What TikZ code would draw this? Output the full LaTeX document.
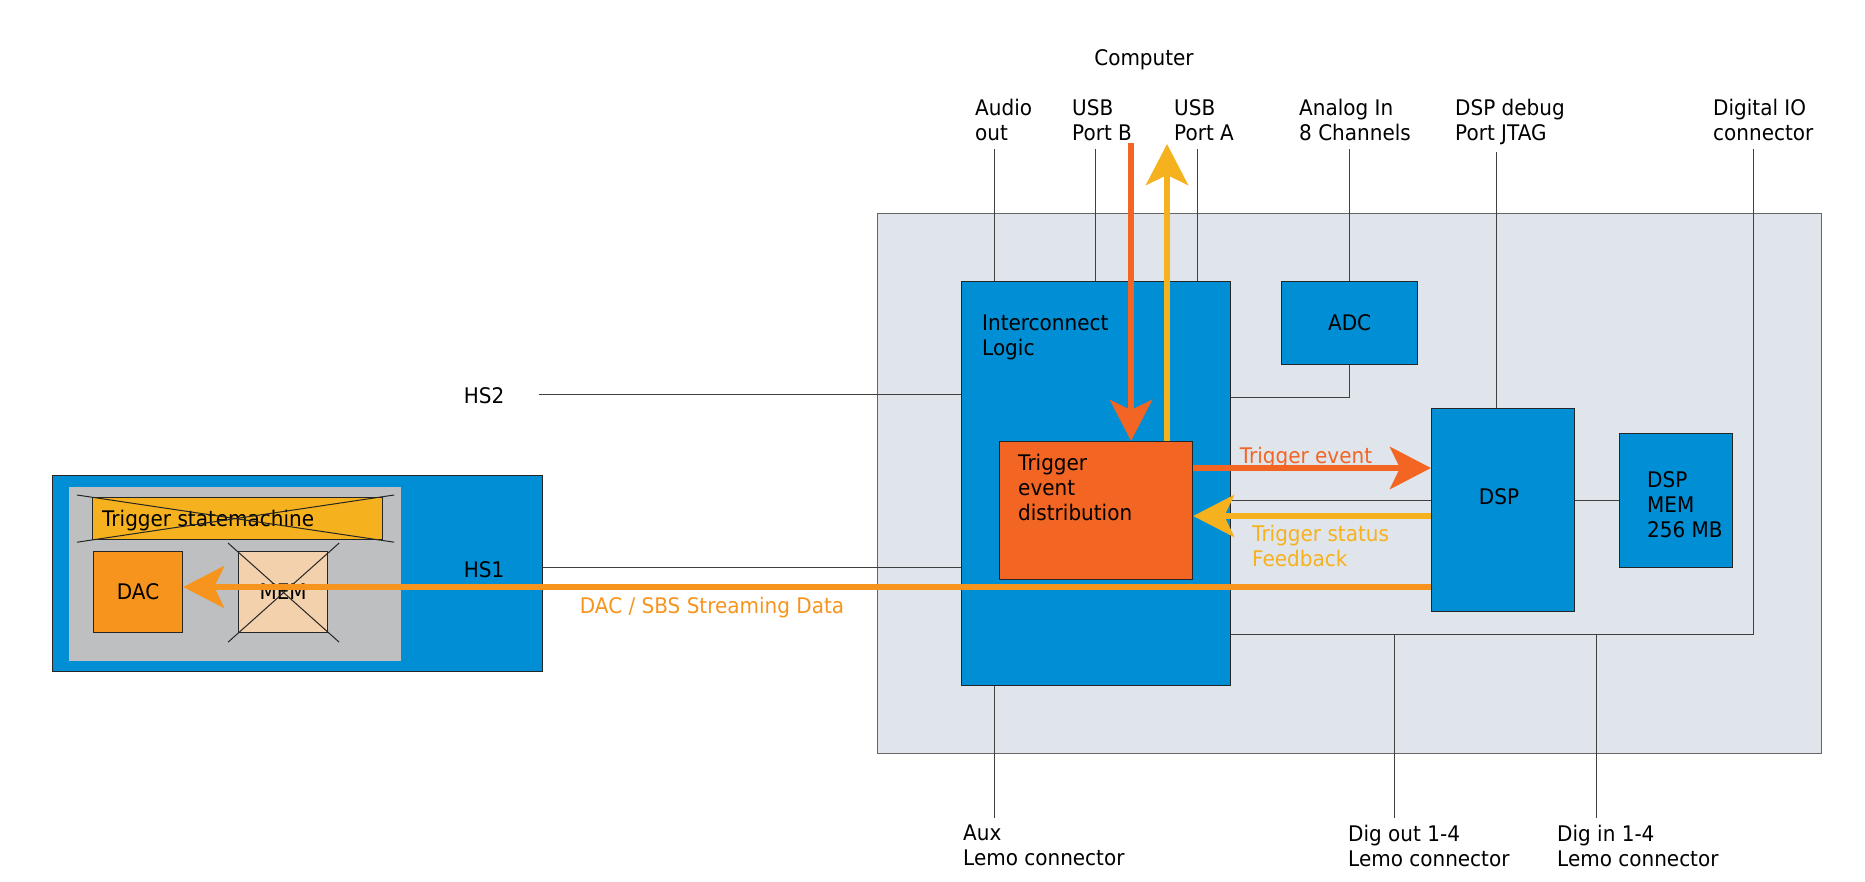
\documentclass[tikz,border=0pt]{standalone}
\usepackage{fontspec}
\setmainfont{DejaVu Sans}[FakeStretch=0.93]
\usetikzlibrary{positioning,arrows.meta}
\definecolor{boxblue}{HTML}{008ED4}
\definecolor{boardgray}{HTML}{E0E5EC}
\definecolor{slotgray}{HTML}{BEBFC1}
\definecolor{trigred}{HTML}{F26522}
\definecolor{trigyel}{HTML}{F6B11E}
\definecolor{streamor}{HTML}{F7941E}
\definecolor{peach}{HTML}{F2D1AC}

\begin{document}
\begin{tikzpicture}[x=1pt, y=-1pt, font=\fontsize{21.5}{25}\selectfont,
  box/.style={draw=black!85, line width=1.2pt, inner sep=0pt, anchor=north west},
  wire/.style={draw=black!75, line width=1pt},
  flow/.style={line width=6pt, -{Stealth[length=41pt,width=42pt,inset=10pt]}},
  txt/.style={inner sep=0pt, align=left, anchor=north west},
  mid/.style={inner sep=0pt, anchor=base}]
  \useasboundingbox (0,0) rectangle (1865,882);

  % board and its blocks
  \node[box, draw=black!60, fill=boardgray, minimum width=944pt, minimum height=540pt] (board) at (877,213) {};
  \node[box, fill=boxblue, minimum width=269pt, minimum height=404pt] (il) at (961,281) {};
  \node[box, fill=trigred, minimum width=193pt, minimum height=138pt] (ted) at (999,441) {};
  \node[box, fill=boxblue, minimum width=136pt, minimum height=83pt] (adc) at (1281,281) {ADC};
  \node[box, fill=boxblue, minimum width=143pt, minimum height=203pt] (dsp) at (1431,408) {};
  \node[box, fill=boxblue, minimum width=113pt, minimum height=134pt] (dmem) at (1619,433) {};
  \node[txt] (iltxt) at ([shift={(21,34)}]il.north west) {Interconnect\\Logic};
  \node[txt] (tedtxt) at ([shift={(19,13)}]ted.north west) {Trigger\\event\\distribution};
  \node[txt] (dmemtxt) at ([shift={(28,38)}]dmem.north west) {DSP\\MEM\\256 MB};
  \node[mid] (dsptxt) at (1499,504) {DSP};

  % HS card
  \node[box, fill=boxblue, minimum width=490pt, minimum height=196pt] (hs) at (52,475) {};
  \node[box, draw=none, fill=slotgray, minimum width=332pt, minimum height=174pt] (hsin) at (68,486) {};
  \node[box, fill=trigyel, minimum width=290pt, minimum height=42pt] (tsm) at (92,497) {};
  \node[mid, anchor=base west] (tsmtxt) at ([shift={(10,8)}]tsm.west) {Trigger statemachine};
  \node[box, fill=streamor, minimum width=89pt, minimum height=81pt] (dac) at (93,551) {DAC};
  \node[box, fill=peach, minimum width=89pt, minimum height=81pt] (hsmem) at (238,551) {MEM};
  \draw[black!85, line width=1pt] ([shift={(-15,-2)}]tsm.north west) -- ([shift={(11,2)}]tsm.south east);
  \draw[black!85, line width=1pt] ([shift={(-15,2)}]tsm.south west) -- ([shift={(11,-2)}]tsm.north east);
  \draw[black!85, line width=1pt] ([shift={(-10,-8)}]hsmem.north west) -- ([shift={(11,9)}]hsmem.south east);
  \draw[black!85, line width=1pt] ([shift={(-10,9)}]hsmem.south west) -- ([shift={(11,-8)}]hsmem.north east);

  % outside labels
  \node[mid] (comp) at (1144,66) {Computer};
  \node[txt] (audio) at (975,99) {Audio\\out};
  \node[txt] (usbb) at (1072,99) {USB\\Port B};
  \node[txt] (usba) at (1174,99) {USB\\Port A};
  \node[txt] (ain) at (1299,99) {Analog In\\8 Channels};
  \node[txt] (jtag) at (1455,99) {DSP debug\\Port JTAG};
  \node[txt] (dio) at (1713,99) {Digital IO\\connector};
  \node[txt] (aux) at (963,825) {Aux\\Lemo connector};
  \node[txt] (dout) at (1348,825) {Dig out 1-4\\Lemo connector};
  \node[txt] (din) at (1557,825) {Dig in 1-4\\Lemo connector};
  \node[mid] (hs2) at (484,403) {HS2};
  \node[mid] (hs1) at (484,577) {HS1};

  % wires
  \coordinate (hs2end) at (539,394);
  \draw[wire] (hs2end) -- (hs2end -| il.west);
  \draw[wire] (hs.east |- 0,567) -- (il.west |- 0,567);
  \foreach \x/\n in {994/pa,1095/pb,1197/pc} {
    \coordinate (\n) at (\x,149);
    \draw[wire] (\n) -- (\n |- il.north);
  }
  \draw[wire] (adc.north) -- (adc.north |- 0,149);
  \draw[wire] (adc.south) |- (il.east |- 0,397);
  \coordinate (pj) at (1496,152);
  \draw[wire] (pj) -- (pj |- dsp.north);
  \coordinate (pd) at (1753,149);
  \draw[wire] (pd) |- (il.east |- 0,634);
  \draw[wire] (dsp.west |- 0,500) -- (il.east |- 0,500);
  \draw[wire] (dsp.east |- dmem.west) -- (dmem.west);
  \foreach \x in {1394,1596}
    \draw[wire] (\x,634) -- (\x,818);
  \draw[wire] (il.south -| 994,0) -- (994,818);

  % data flows
  \draw[flow, trigred] (1131,143) -- (ted.north -| 1131,0);
  \draw[flow, trigyel] (ted.north -| 1167,0) -- (1167,144);
  \draw[flow, trigred] (ted.east |- 0,468) -- (dsp.west |- 0,468);
  \draw[flow, trigyel] (dsp.west |- 0,516) -- (ted.east |- 0,516);
  \draw[flow, streamor] (dsp.west |- 0,587) -- (dac.east |- 0,587);
  \node[mid, text=trigred] (tev) at (1306,463) {Trigger event};
  \node[txt, text=trigyel] (tst) at (1252,525) {Trigger status\\Feedback};
  \node[mid, text=streamor] (sbs) at (712,613) {DAC / SBS Streaming Data};
\end{tikzpicture}
\end{document}
